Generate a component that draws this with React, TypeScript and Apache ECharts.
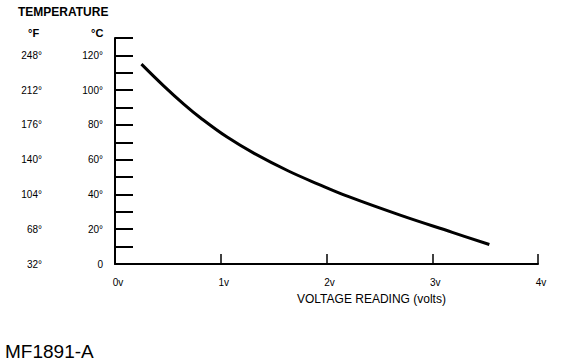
import React, { useEffect, useRef } from "react";
import * as echarts from "echarts";

const voltage = [0.25, 0.46, 0.65, 0.81, 1.06, 1.32, 1.64, 1.92, 2.21, 2.71, 3.19, 3.54];
const tempC = [115, 102.5, 92, 84, 73, 63.5, 53.5, 46, 38.7, 27.8, 18.2, 11.2];
const xTicks = ["0v", "1v", "2v", "3v", "4v"];
const cLabels: Record<number, string> = { 0: "0", 20: "20°", 40: "40°", 60: "60°", 80: "80°", 100: "100°", 120: "120°" };
const fLabels: Record<number, string> = { 0: "32°", 20: "68°", 40: "104°", 60: "140°", 80: "176°", 100: "212°", 120: "248°" };

const FONT = "Liberation Sans";

export default function App() {
  const ref = useRef<HTMLDivElement>(null);
  useEffect(() => {
    const chart = echarts.init(ref.current!, null, { renderer: "svg" });
    chart.setOption({
      animation: false,
      backgroundColor: "#fff",
      grid: { left: 115, right: 38, top: 38, bottom: 100 },
      xAxis: {
        type: "value",
        min: 0,
        max: 4,
        interval: 1,
        splitLine: { show: false },
        axisLine: { lineStyle: { color: "#000", width: 2 } },
        axisTick: { inside: true, length: 10, lineStyle: { color: "#000", width: 1.5 } },
        axisLabel: {
          color: "#000",
          fontFamily: FONT,
          fontSize: 10,
          margin: 13,
          padding: [0, 0, 0, 6],
          formatter: (v: number) => xTicks[Math.round(v)] ?? "",
        },
      },
      yAxis: [
        {
          type: "value",
          min: 0,
          max: 130,
          interval: 10,
          splitLine: { show: false },
          axisLine: { lineStyle: { color: "#000", width: 2 } },
          axisTick: { inside: true, length: 18, lineStyle: { color: "#000", width: 2 } },
          axisLabel: {
            color: "#000",
            fontFamily: FONT,
            fontSize: 10,
            margin: 12,
            formatter: (v: number) => cLabels[v] ?? "",
          },
        },
        {
          type: "value",
          position: "left",
          offset: 65,
          min: 0,
          max: 130,
          interval: 10,
          splitLine: { show: false },
          axisLine: { show: false },
          axisTick: { show: false },
          axisLabel: {
            color: "#000",
            fontFamily: FONT,
            fontSize: 10,
            margin: 8,
            formatter: (v: number) => fLabels[v] ?? "",
          },
        },
      ],
      series: [
        {
          type: "line",
          data: voltage.map((v, i) => [v, tempC[i]]),
          smooth: 0.4,
          showSymbol: false,
          lineStyle: { color: "#000", width: 3 },
        },
      ],
      graphic: [
        { type: "text", left: 18, top: 6, style: { text: "TEMPERATURE", fill: "#000", font: `bold 12px ${FONT}` } },
        { type: "text", left: 28, top: 27, style: { text: "°F", fill: "#000", font: `bold 11px ${FONT}` } },
        { type: "text", left: 91, top: 27, style: { text: "°C", fill: "#000", font: `bold 11px ${FONT}` } },
        { type: "text", left: 297, top: 293, style: { text: "VOLTAGE READING (volts)", fill: "#000", font: `12px ${FONT}` } },
        { type: "text", left: 5, top: 342, style: { text: "MF1891-A", fill: "#000", font: `19px ${FONT}` } },
      ],
    });
    return () => chart.dispose();
  }, []);
  return <div ref={ref} style={{ position: "absolute", left: 0, top: 0, width: 576, height: 364 }} />;
}
